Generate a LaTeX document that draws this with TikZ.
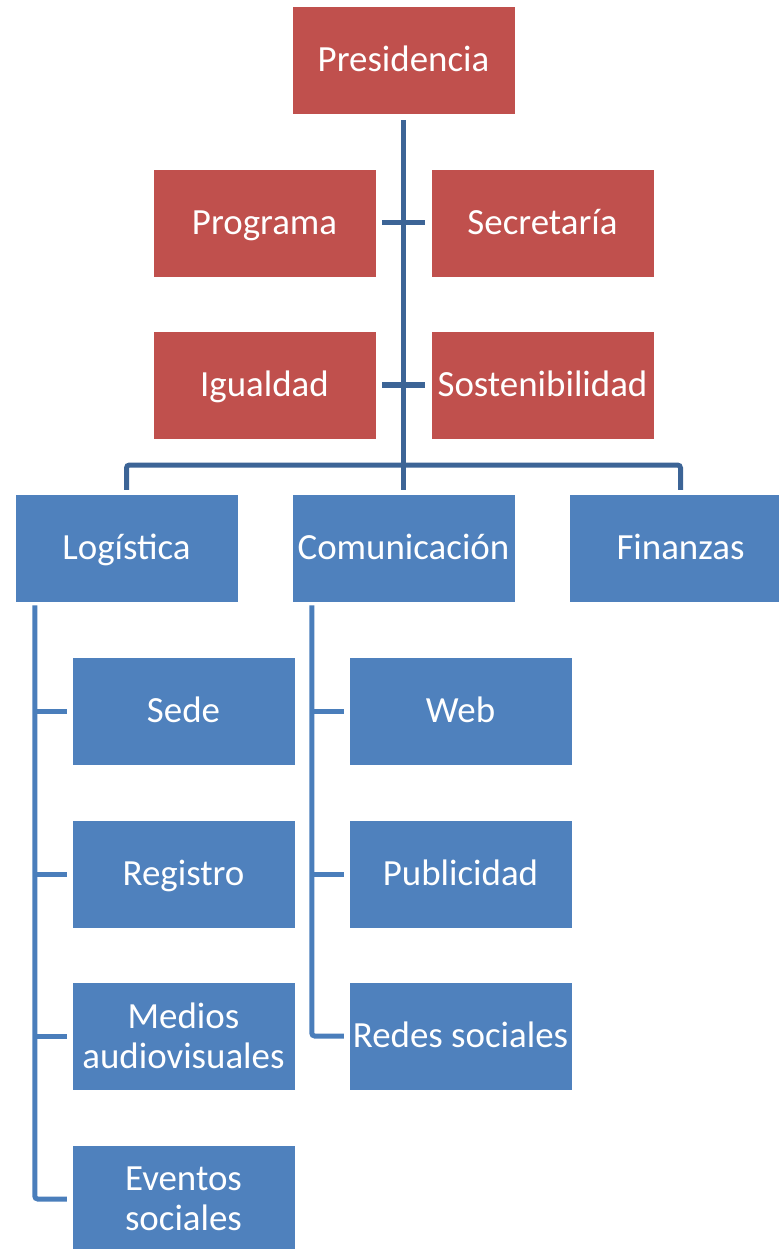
\documentclass[tikz,border=0pt]{standalone}
\usepackage{fontspec}
\setmainfont{Carlito}
\definecolor{redbox}{HTML}{C0504D}
\definecolor{bluebox}{HTML}{4F81BD}
\definecolor{mainline}{HTML}{3C6496}
\definecolor{subline}{HTML}{4A7EBB}
\begin{document}
\begin{tikzpicture}[
    boxbase/.style={draw=white, line width=0.01cm, minimum width=4.46cm, minimum height=2.16cm,
                inner sep=0pt, align=center, text=white, font=\fontsize{21}{23}\selectfont},
    box/.style={boxbase, text height=15.5pt, text depth=2pt},
    redb/.style={box, fill=redbox},
    blueb/.style={box, fill=bluebox},
    bluetwo/.style={boxbase, fill=bluebox},
    mainconn/.style={draw=mainline, line width=0.1cm, rounded corners=0.06cm},
    subconn/.style={draw=subline, line width=0.1cm, rounded corners=0.06cm}]
                    \useasboundingbox (0,0) rectangle (15.56,-24.98);

                    % Top level and assistants
                    \node [redb] (pres) at (8.07,-1.20) {Presidencia};
                    \node [redb] (prog) at (5.29,-4.46) {Programa};
                    \node [redb] (secr) at (10.85,-4.46) {Secretaría};
                    \node [redb] (igual) at (5.29,-7.70) {Igualdad};
                    \node [redb] (sost) at (10.85,-7.70) {Sostenibilidad};

                    % Second level
                    \node [blueb] (log) at (2.53,-10.96) {Logística};
                    \node [blueb] (com) at (8.07,-10.96) {Comunicación};
                    \node [blueb] (fin) at (13.61,-10.96) {Finanzas};

                    % Boxes under Logística
                    \node [blueb] (sede) at (3.67,-14.22) {Sede};
                    \node [blueb] (reg) at (3.67,-17.48) {Registro};
                    \node [bluetwo] (medios) at (3.67,-20.72) {Medios\\audiovisuales};
                    \node [bluetwo] (eventos) at (3.67,-23.98) {Eventos\\sociales};

                    % Boxes under Comunicación
                    \node [blueb] (web) at (9.21,-14.22) {Web};
                    \node [blueb] (publ) at (9.21,-17.48) {Publicidad};
                    \node [blueb] (redes) at (9.21,-20.72) {Redes sociales};

                    % Drawing line from Presidencia down to the bus
                    \coordinate (bus) at (8.07,-9.30);
                    \draw [mainconn] ([yshift=-0.12cm]pres.south) -- ([yshift=0.08cm]com.north);
                    \draw [mainconn] ([yshift=0.08cm]log.north) |- (bus) -| ([yshift=0.08cm]fin.north);

                    % Drawing assistant lines
                    \draw [mainconn] ([xshift=0.12cm]prog.east) -- ([xshift=-0.12cm]secr.west);
                    \draw [mainconn] ([xshift=0.12cm]igual.east) -- ([xshift=-0.12cm]sost.west);

                    % Drawing lines under Logística
                    \coordinate (logline) at ([xshift=0.40cm,yshift=-0.06cm]log.south west);
                    \draw [subconn] (logline) |- ([xshift=-0.1cm]eventos.west);
                    \draw [subconn] ([xshift=-0.1cm]sede.west) -- (sede.west -| logline);
                    \draw [subconn] ([xshift=-0.1cm]reg.west) -- (reg.west -| logline);
                    \draw [subconn] ([xshift=-0.1cm]medios.west) -- (medios.west -| logline);

                    % Drawing lines under Comunicación
                    \coordinate (comline) at ([xshift=0.40cm,yshift=-0.06cm]com.south west);
                    \draw [subconn] (comline) |- ([xshift=-0.1cm]redes.west);
                    \draw [subconn] ([xshift=-0.1cm]web.west) -- (web.west -| comline);
                    \draw [subconn] ([xshift=-0.1cm]publ.west) -- (publ.west -| comline);
\end{tikzpicture}
\end{document}
